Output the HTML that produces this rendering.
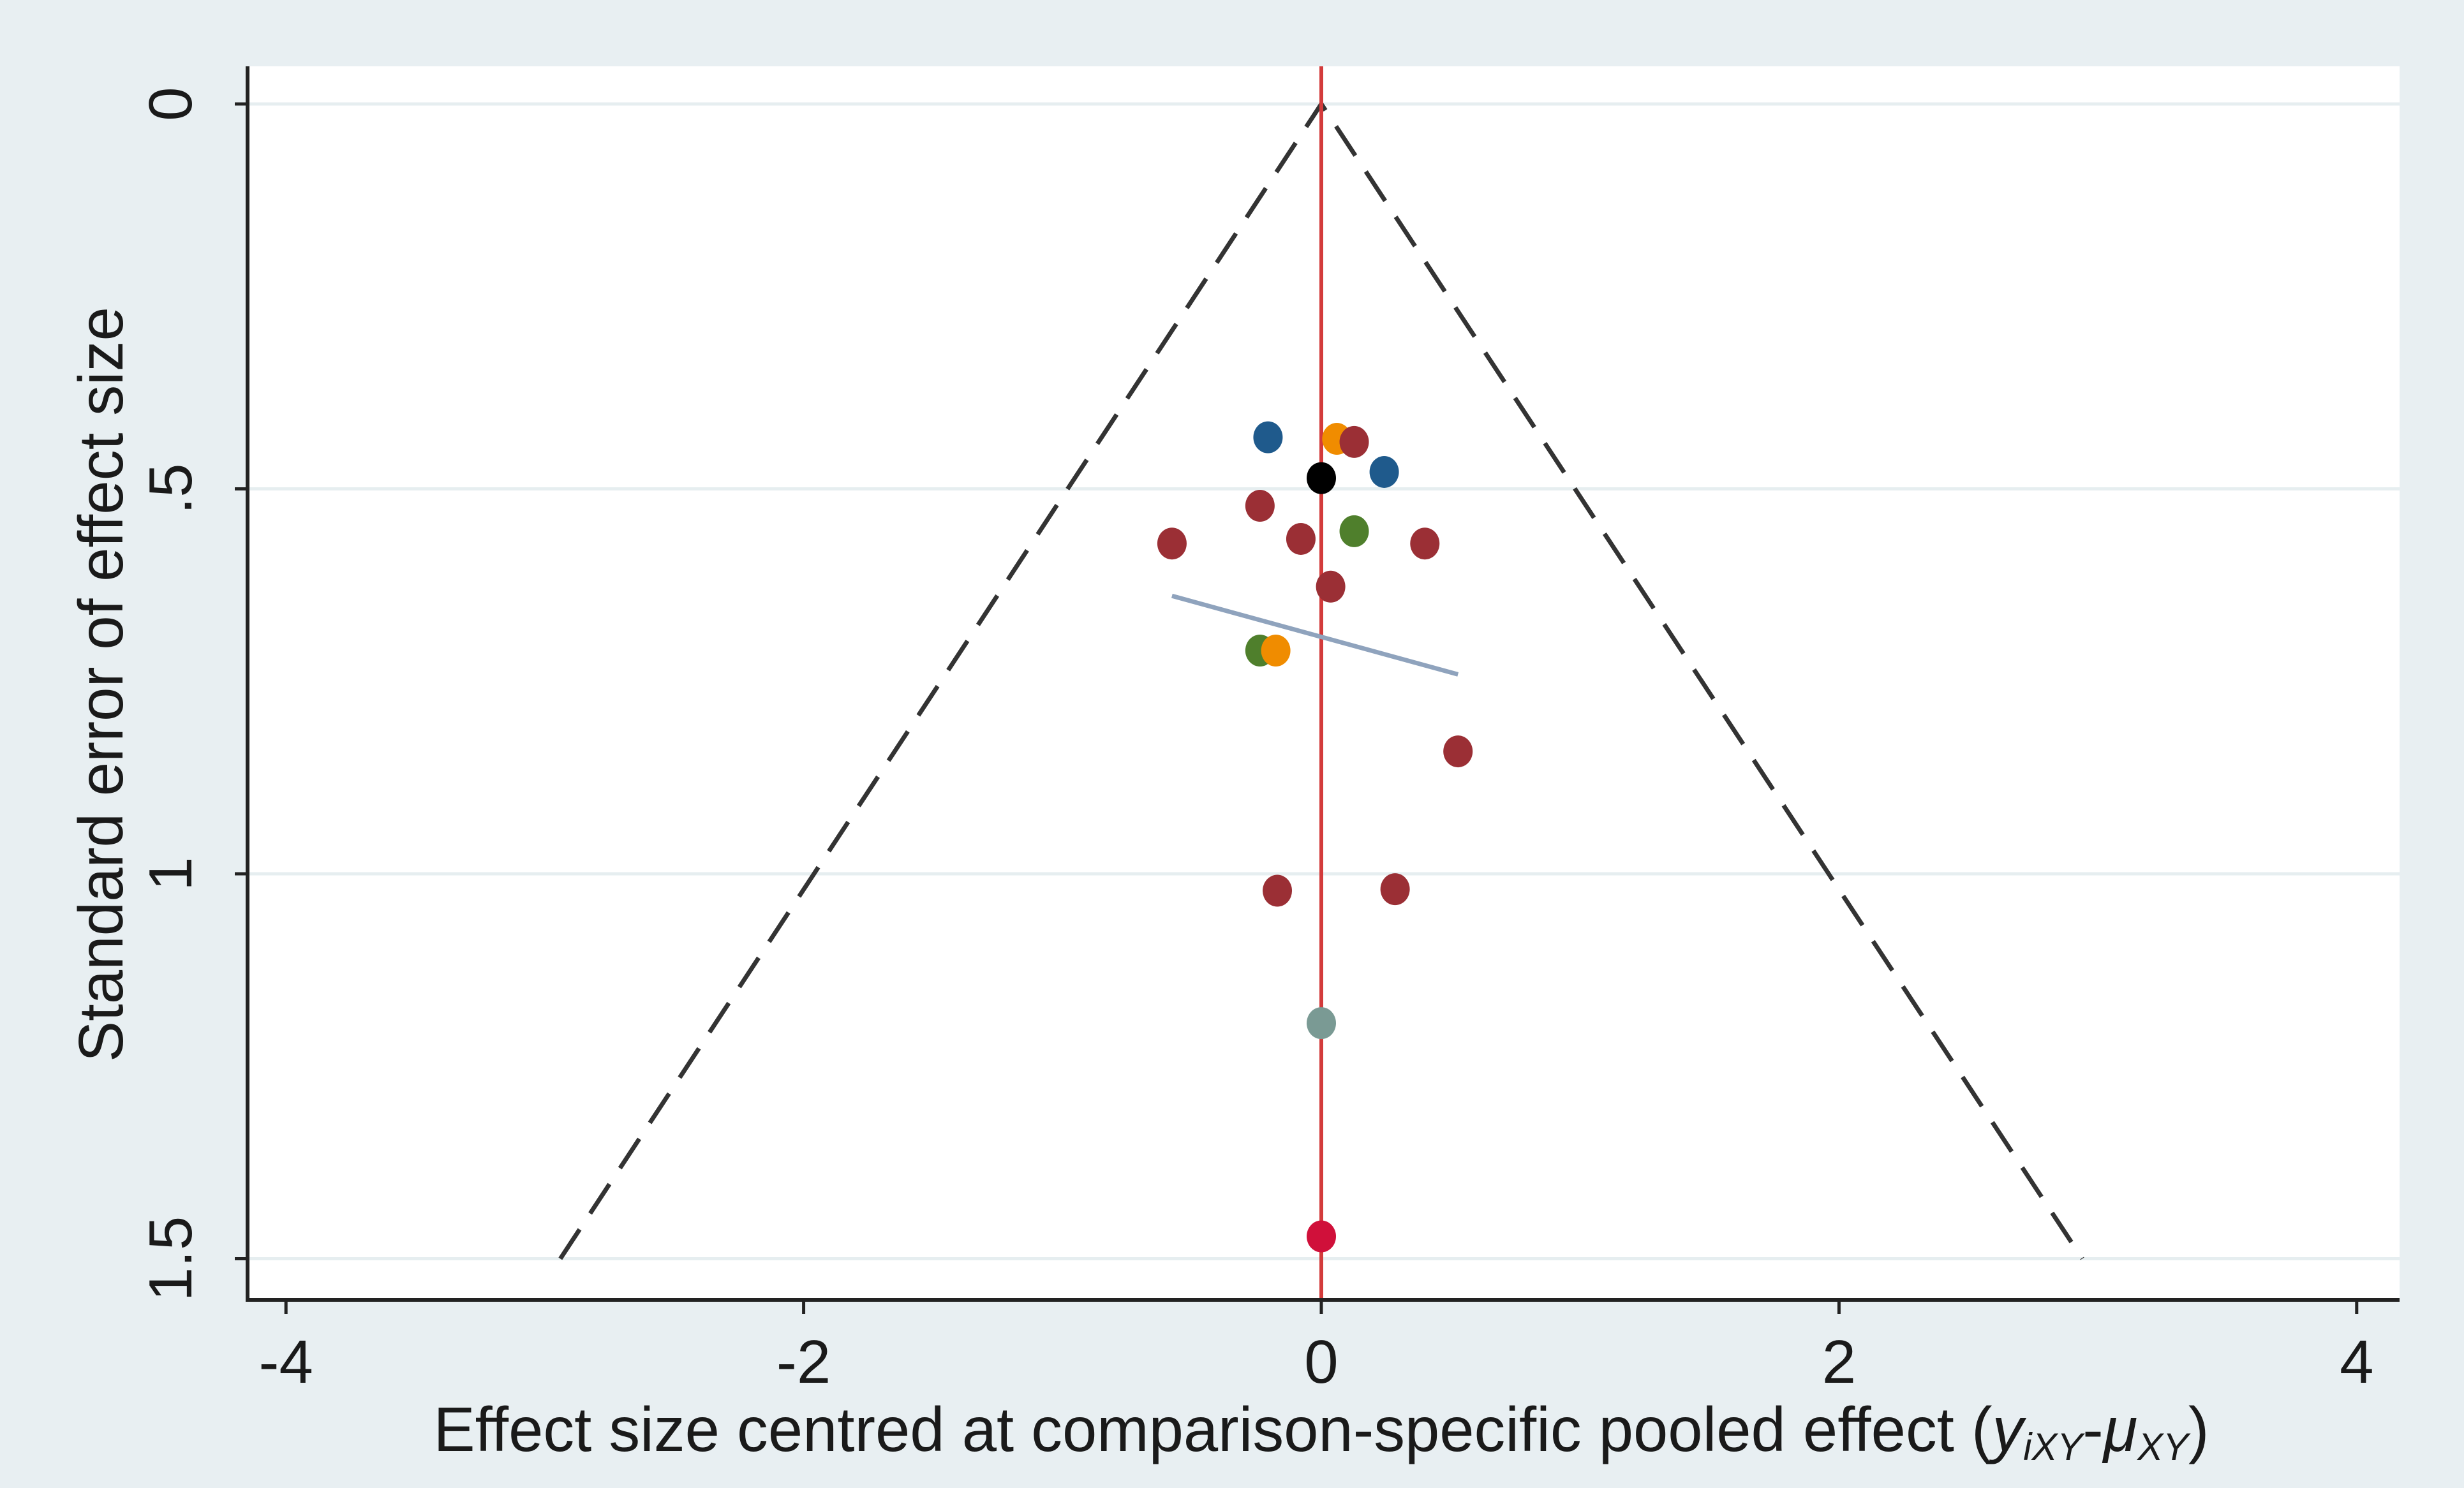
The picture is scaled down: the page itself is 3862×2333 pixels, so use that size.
<!DOCTYPE html>
<html><head><meta charset="utf-8"><style>
html,body{margin:0;padding:0;background:#fff}
svg{display:block}
text{font-family:"Liberation Sans",Arial,sans-serif;fill:#1a1a1a}
</style></head><body>
<svg id="chart" width="3862" height="2333" viewBox="0 0 3862 2333" xmlns="http://www.w3.org/2000/svg">
<rect x="0" y="0" width="3862" height="2333" fill="#e8eff2"/>
<rect x="388" y="104" width="3373" height="1934" fill="#ffffff"/>
<g id="grid"></g>
<g id="funnel"></g>
<g id="axes"></g>
<g id="marks"></g>
<text x="2071" y="2275" font-size="98" text-anchor="middle" textLength="2783" lengthAdjust="spacingAndGlyphs">Effect size centred at comparison-specific pooled effect (<tspan font-style="italic">y</tspan><tspan font-style="italic" font-size="60" dy="14">iXY</tspan><tspan dy="-14">-</tspan><tspan font-style="italic">μ</tspan><tspan font-style="italic" font-size="60" dy="14">XY</tspan><tspan dy="-14">)</tspan></text>
<text transform="translate(192,1073) rotate(-90)" font-size="98" text-anchor="middle" textLength="1184" lengthAdjust="spacingAndGlyphs">Standard error of effect size</text>
</svg>
<script>
const xTicks = [-4, -2, 0, 2, 4];
const yTicks = [0, 0.5, 1, 1.5];
const yTickLabels = ["0", ".5", "1", "1.5"];
const pointX = [-0.206, 0.06, 0.127, 0.243, 0, -0.237, -0.577, -0.079, 0.127, 0.40, 0.036, -0.237, -0.176, 0.528, -0.17, 0.285, 0, 0];
const pointSE = [0.433, 0.435, 0.439, 0.478, 0.486, 0.522, 0.571, 0.565, 0.555, 0.571, 0.627, 0.71, 0.71, 0.841, 1.022, 1.02, 1.194, 1.471];
const pointColor = ["#1f5a8c", "#f08c00", "#9b2f35", "#1f5a8c", "#000000", "#9b2f35", "#9b2f35", "#9b2f35", "#4f7f2c", "#9b2f35", "#9b2f35", "#4f7f2c", "#f08c00", "#9b2f35", "#9b2f35", "#9b2f35", "#7a9a94", "#d0103a"];
const fitLineX = [-0.577, 0.528];
const fitLineSE = [0.639, 0.741];
const funnelMaxSE = 1.5;
const zCrit = 1.96;

const NS = "http://www.w3.org/2000/svg";
const X0 = 2071, XU = 405.7, Y0 = 163, YU = 1207;
function sx(v){return X0 + v*XU;}
function sy(v){return Y0 + v*YU;}
function mk(tag, attrs, parent){const e=document.createElementNS(NS,tag);for(const k in attrs)e.setAttribute(k,attrs[k]);parent.appendChild(e);return e;}
const grid=document.getElementById('grid'), axes=document.getElementById('axes'), marks=document.getElementById('marks'), funnel=document.getElementById('funnel');

yTicks.forEach((t,i)=>{
  const g=mk('line',{x1:388,x2:3761,y1:sy(t),y2:sy(t),stroke:'#e6eef0','stroke-width':5},grid);
  
  
  const tk=mk('line',{x1:368,x2:388,y1:sy(t),y2:sy(t),stroke:'#222','stroke-width':5},axes);
  
  
  const tx=mk('text',{transform:`translate(300,${sy(t)}) rotate(-90)`,'font-size':96,'text-anchor':'middle'},axes);
  tx.textContent=yTickLabels[i];
  
  
});
xTicks.forEach(t=>{
  const tk=mk('line',{x1:sx(t),x2:sx(t),y1:2038,y2:2060,stroke:'#222','stroke-width':5},axes);
  
  
  const tx=mk('text',{x:sx(t),y:2168,'font-size':96,'text-anchor':'middle'},axes);
  tx.textContent=String(t);
  
  
});
const ax=mk('polyline',{points:`388,104 388,2038 3761,2038`,fill:'none',stroke:'#222','stroke-width':6},axes);



const fl=mk('polyline',{points:`${sx(-zCrit*funnelMaxSE)},${sy(funnelMaxSE)} ${sx(0)},${sy(0)} ${sx(zCrit*funnelMaxSE)},${sy(funnelMaxSE)}`,fill:'none',stroke:'#333','stroke-width':7,'stroke-dasharray':'55,30'},funnel);


const ref=mk('line',{x1:sx(0),x2:sx(0),y1:104,y2:2038,stroke:'#d33b3b','stroke-width':6},funnel);


const fit=mk('line',{x1:sx(fitLineX[0]),y1:sy(fitLineSE[0]),x2:sx(fitLineX[1]),y2:sy(fitLineSE[1]),stroke:'#8fa3bd','stroke-width':7},funnel);



pointX.forEach((v,i)=>{
  const c=mk('ellipse',{cx:sx(v),cy:sy(pointSE[i]),rx:23,ry:25,fill:pointColor[i]},marks);
  
  
});
</script>
</body></html>
